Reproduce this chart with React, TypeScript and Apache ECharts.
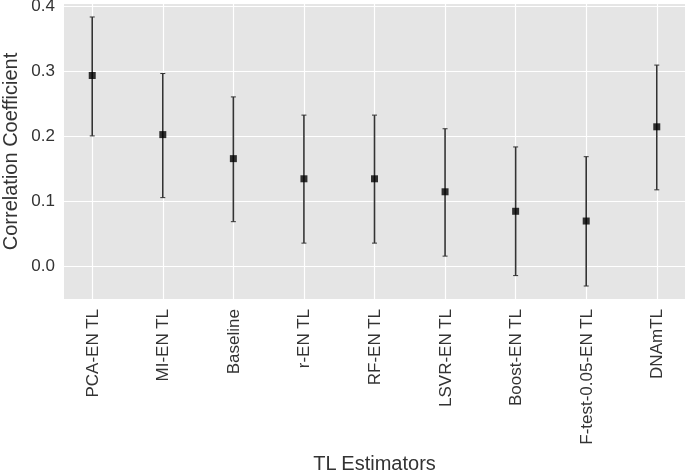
import React, { useEffect, useRef } from "react";
import * as echarts from "echarts";

const categories = [
  "PCA-EN TL",
  "MI-EN TL",
  "Baseline",
  "r-EN TL",
  "RF-EN TL",
  "LSVR-EN TL",
  "Boost-EN TL",
  "F-test-0.05-EN TL",
  "DNAmTL",
];
const means = [0.293, 0.202, 0.165, 0.134, 0.134, 0.114, 0.084, 0.069, 0.214];
const lower = [0.2, 0.105, 0.068, 0.035, 0.035, 0.015, -0.015, -0.031, 0.117];
const upper = [0.383, 0.296, 0.26, 0.232, 0.232, 0.211, 0.183, 0.168, 0.309];
const yTicks = [0.0, 0.1, 0.2, 0.3, 0.4];

const FONT = "'Liberation Sans', Arial, Helvetica, sans-serif";
const TEXT = "#333333";

export default function App() {
  const ref = useRef<HTMLDivElement>(null);
  useEffect(() => {
    if (!ref.current) return;
    const chart = echarts.init(ref.current, undefined, { renderer: "svg" });
    const xIdx = categories.map((_, i) => i);
    chart.setOption({
      animation: false,
      grid: {
        left: 64,
        right: 0,
        top: 4,
        bottom: 173,
        containLabel: false,
        outerBoundsMode: "none",
        show: true,
        backgroundColor: "#E5E5E5",
        borderWidth: 0,
      },
      xAxis: {
        type: "value",
        min: -0.4,
        max: 8.4,
        axisLine: { show: false },
        axisTick: { show: false },
        splitLine: { show: false },
        axisLabel: {
          customValues: xIdx,
          formatter: (v: number) => categories[Math.round(v)] ?? "",
          rotate: 90,
          margin: 10,
          fontSize: 17,
          color: TEXT,
          fontFamily: FONT,
        },
        name: "TL Estimators",
        nameLocation: "middle",
        nameGap: 153,
        nameTextStyle: { fontSize: 20, lineHeight: 15, color: TEXT, fontFamily: FONT },
      },
      yAxis: {
        type: "value",
        min: -0.051,
        max: 0.403,
        axisLine: { show: false },
        axisTick: { show: false },
        splitLine: { show: false },
        axisLabel: {
          customValues: yTicks,
          formatter: (v: number) => v.toFixed(1),
          margin: 9,
          fontSize: 17,
          lineHeight: 12,
          color: TEXT,
          fontFamily: FONT,
        },
        name: "Correlation Coefficient",
        nameLocation: "middle",
        nameGap: 41,
        nameTextStyle: { fontSize: 20, color: TEXT, fontFamily: FONT },
      },
      series: [
        {
          type: "line",
          data: [],
          silent: true,
          z: 1,
          markLine: {
            silent: true,
            z: 1,
            symbol: "none",
            animation: false,
            label: { show: false },
            lineStyle: { color: "#ffffff", width: 1.2, type: "solid" },
            emphasis: { disabled: true },
            data: [
              ...yTicks.map((v) => ({ yAxis: v })),
              ...xIdx.map((i) => ({ xAxis: i })),
            ],
          },
        },
        {
          type: "custom",
          z: 6,
          silent: true,
          data: xIdx.map((i) => [i, lower[i], upper[i]]),
          renderItem: (params: any, api: any) => {
            const x = api.value(0);
            const lo = api.coord([x, api.value(1)]);
            const hi = api.coord([x, api.value(2)]);
            const cap = 2.5;
            const style = { stroke: "#333333", lineWidth: 1.6 };
            return {
              type: "group",
              children: [
                { type: "line", shape: { x1: lo[0], y1: lo[1], x2: hi[0], y2: hi[1] }, style },
                { type: "line", shape: { x1: lo[0] - cap, y1: lo[1], x2: lo[0] + cap, y2: lo[1] }, style: { stroke: "#333333", lineWidth: 1 } },
                { type: "line", shape: { x1: hi[0] - cap, y1: hi[1], x2: hi[0] + cap, y2: hi[1] }, style: { stroke: "#333333", lineWidth: 1 } },
              ],
            };
          },
        },
        {
          type: "scatter",
          z: 7,
          silent: true,
          symbol: "rect",
          symbolSize: 7,
          itemStyle: { color: "#000000" },
          data: means.map((m, i) => [i, m]),
        },
      ],
    });
    return () => chart.dispose();
  }, []);
  return (
    <div
      ref={ref}
      style={{ position: "fixed", left: 0, top: 0, width: 685, height: 472 }}
    />
  );
}
